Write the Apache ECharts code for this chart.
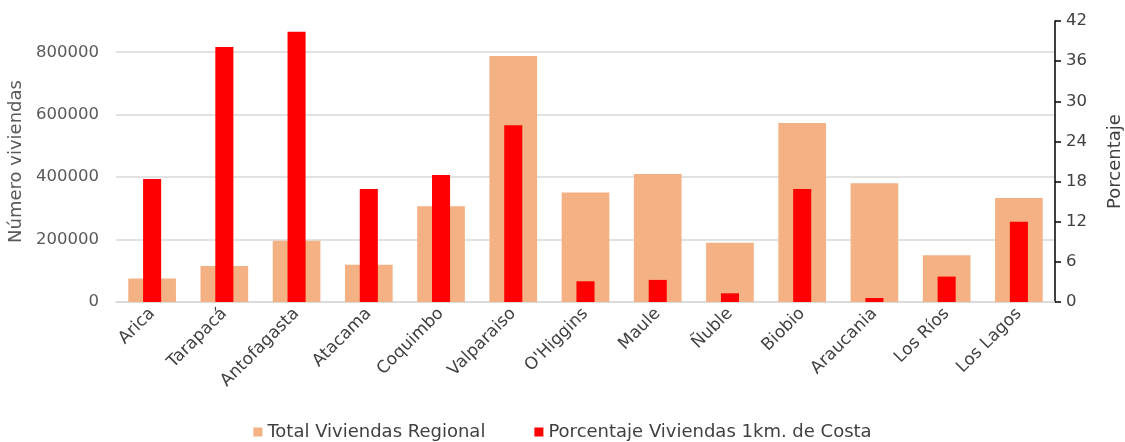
<!DOCTYPE html>
<html>
<head>
<meta charset="utf-8">
<script src="https://cdn.jsdelivr.net/npm/echarts@6/dist/echarts.min.js"></script>
<style>html,body{margin:0;padding:0;background:#fff}#c{width:1125px;height:442px}</style>
</head>
<body>
<div id="c"></div>
<script>
const categories = ['Arica','Tarapacá','Antofagasta','Atacama','Coquimbo','Valparaiso',"O'Higgins",'Maule','Ñuble','Biobio','Araucania','Los Ríos','Los Lagos'];
const totalViviendas = [75000,115000,196000,119000,307000,788000,351000,410000,190000,573000,380000,150000,333000];
const porcentajeCosta = [18.4,38.1,40.4,16.9,19.0,26.4,3.1,3.3,1.3,16.9,0.6,3.8,12.0];
const seriesNames = ['Total Viviendas Regional','Porcentaje Viviendas 1km. de Costa'];
const leftAxisName = 'Número viviendas';
const rightAxisName = 'Porcentaje';

const FONT = "'DejaVu Sans', sans-serif";
const chart = echarts.init(document.getElementById('c'));
chart.setOption({
  animation: false,
  textStyle: {fontFamily: FONT},
  grid: {left: 116, right: 70, top: 21, bottom: 140, outerBoundsMode: 'none', containLabel: false},
  legend: {
    bottom: -4, left: 'center', icon: 'rect', itemWidth: 9, itemHeight: 9, itemGap: 49,
    textStyle: {fontFamily: FONT, fontSize: 18, color: '#404040'},
    data: seriesNames
  },
  xAxis: [
    {type: 'category', data: categories,
     axisLine: {lineStyle: {color: '#d9d9d9', width: 1.5}},
     axisTick: {show: false},
     axisLabel: {rotate: 45, color: '#404040', fontSize: 17, fontFamily: FONT, margin: 9, interval: 0}},
    {type: 'category', data: categories, show: false}
  ],
  yAxis: [
    {type: 'value', min: 0, max: 900000, interval: 200000,
     name: leftAxisName, nameLocation: 'middle', nameRotate: 90, nameGap: 89,
     nameTextStyle: {color: '#595959', fontSize: 18, fontFamily: FONT},
     axisLine: {show: false}, axisTick: {show: false},
     axisLabel: {color: '#595959', fontSize: 16.5, fontFamily: FONT, margin: 17, showMaxLabel: false,
                 formatter: function (v) { return String(v); }},
     splitLine: {show: true, showMaxLine: false, lineStyle: {color: '#d9d9d9', width: 1.5}}},
    {type: 'value', min: 0, max: 42, interval: 6, position: 'right',
     name: rightAxisName, nameLocation: 'middle', nameRotate: 90, nameGap: 51,
     nameTextStyle: {color: '#404040', fontSize: 18, fontFamily: FONT},
     axisLine: {show: true, lineStyle: {color: '#000', width: 1.5}},
     axisTick: {show: true, inside: false, length: 6, lineStyle: {color: '#000', width: 1.5}},
     axisLabel: {color: '#404040', fontSize: 16.5, fontFamily: FONT, margin: 11},
     splitLine: {show: false}}
  ],
  series: [
    {name: seriesNames[0], type: 'bar', xAxisIndex: 0, yAxisIndex: 0, barWidth: '66%',
     itemStyle: {color: '#F4B183'}, data: totalViviendas},
    {name: seriesNames[1], type: 'bar', xAxisIndex: 1, yAxisIndex: 1, barWidth: '25%',
     itemStyle: {color: '#FF0000'}, data: porcentajeCosta}
  ]
});
</script>
</body>
</html>
